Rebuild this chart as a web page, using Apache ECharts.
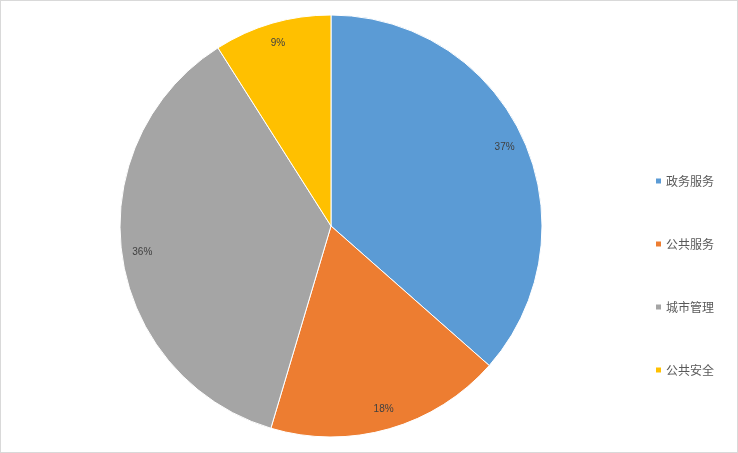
<!DOCTYPE html>
<html>
<head>
<meta charset="utf-8">
<script src="https://cdn.jsdelivr.net/npm/echarts@6/dist/echarts.min.js"></script>
<style>
html,body{margin:0;padding:0;background:#fff;}
#c{width:738px;height:453px;box-sizing:border-box;border:1px solid #d9d9d9;}
</style>
</head>
<body>
<div id="c"></div>
<script>
const categories = ['政务服务', '公共服务', '城市管理', '公共安全'];
const values = [36.5, 18.1, 36.4, 9.0];
const colors = ['#5B9BD5', '#ED7D31', '#A5A5A5', '#FFC000'];

const chart = echarts.init(document.getElementById('c'));
const data = categories.map((n, i) => ({ name: n, value: values[i], itemStyle: { color: colors[i] } }));
const center = [330, 225];
chart.setOption({
  animation: false,
  legend: {
    orient: 'vertical',
    left: 648,
    top: 169,
    itemWidth: 7,
    itemHeight: 7,
    itemGap: 51,
    icon: 'rect',
    data: categories,
    textStyle: { fontSize: 12, color: '#595959', fontFamily: 'Noto Sans CJK SC', padding: [0, 0, 0, -1] }
  },
  series: [
    {
      type: 'pie',
      center: center,
      radius: [0, 211],
      startAngle: 90,
      clockwise: true,
      label: { show: false },
      labelLine: { show: false },
      itemStyle: { borderColor: '#fff', borderWidth: 1 },
      emphasis: { disabled: true },
      data: data
    },
    {
      type: 'pie',
      center: center,
      radius: [164, 211],
      startAngle: 90,
      clockwise: true,
      silent: true,
      percentPrecision: 0,
      label: {
        show: true,
        position: 'inside',
        formatter: '{d}%',
        fontSize: 10,
        color: '#404040',
        fontFamily: 'Liberation Sans'
      },
      labelLine: { show: false },
      itemStyle: { color: 'transparent', borderWidth: 0 },
      emphasis: { disabled: true },
      data: categories.map((n, i) => ({ name: n, value: values[i] }))
    }
  ]
});
</script>
</body>
</html>
